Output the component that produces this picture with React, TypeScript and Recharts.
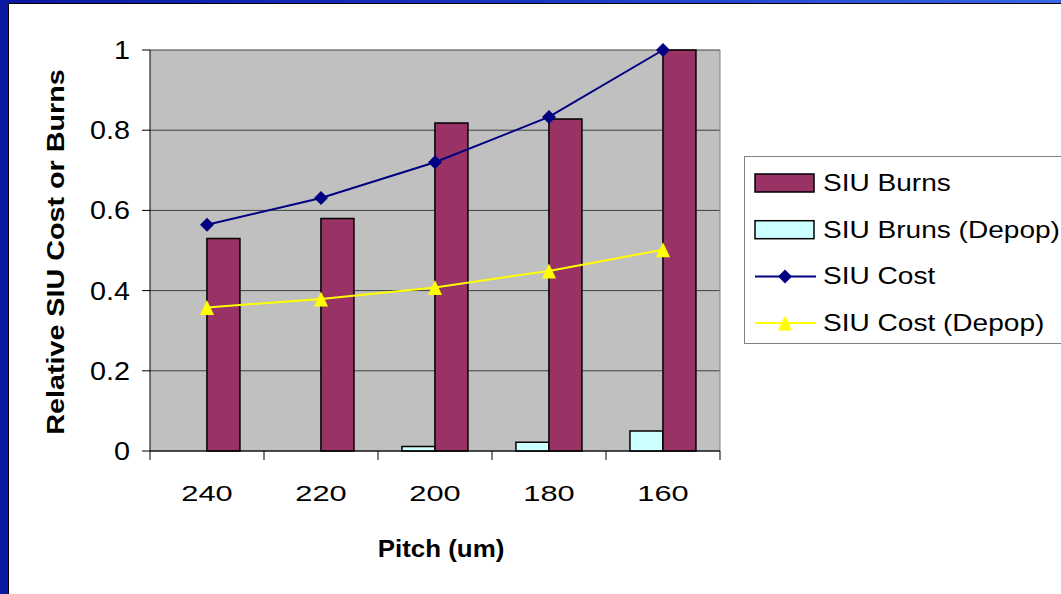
import React from 'react';
import { ComposedChart, Bar, Line, XAxis, YAxis, CartesianGrid } from 'recharts';

const pitches = ['240', '220', '200', '180', '160'];
const siuBurns = [0.53, 0.58, 0.818, 0.828, 1.0];
const siuBurnsDepop = [0, 0, 0.011, 0.022, 0.05];
const siuCost = [0.564, 0.631, 0.72, 0.833, 1.0];
const siuCostDepop = [0.358, 0.379, 0.408, 0.449, 0.502];
const yTicks = [0, 0.2, 0.4, 0.6, 0.8, 1];

const data = pitches.map((pitch, i) => ({
  pitch,
  burns: siuBurns[i],
  burnsDepop: siuBurnsDepop[i],
  cost: siuCost[i],
  costDepop: siuCostDepop[i],
}));

const FONT = '"Liberation Sans", Arial, sans-serif';
const W = 1061;
const H = 594;
const PLOT_LEFT = 150;
const PLOT_RIGHT = 720;
const PLOT_TOP = 50;
const PLOT_BOTTOM = 451;
const BAND = (PLOT_RIGHT - PLOT_LEFT) / pitches.length;

const BURNS = '#993366';
const DEPOP = '#CCFFFF';
const COST = '#000080';
const COST_DEPOP = '#FFFF00';

const diamond = (cx: number, cy: number, r = 7) =>
  `${cx},${cy - r} ${cx + r},${cy} ${cx},${cy + r} ${cx - r},${cy}`;
const triangle = (cx: number, cy: number) =>
  `${cx},${cy - 7.5} ${cx + 7},${cy + 7.5} ${cx - 7},${cy + 7.5}`;

const DiamondDot = (props: any) => {
  const { cx, cy, index } = props;
  return <polygon key={`d-${index}`} points={diamond(cx, cy)} fill={COST} />;
};

const TriangleDot = (props: any) => {
  const { cx, cy, index } = props;
  return <polygon key={`t-${index}`} points={triangle(cx, cy)} fill={COST_DEPOP} />;
};

// category labels with tick marks on the band boundaries
const PitchTick = (props: any) => {
  const { x, y, payload, index } = props;
  const last = index === pitches.length - 1;
  return (
    <g>
      <line x1={x - BAND / 2} x2={x - BAND / 2} y1={y} y2={y + 9} stroke="#000" />
      {last && <line x1={x + BAND / 2} x2={x + BAND / 2} y1={y} y2={y + 9} stroke="#000" />}
      <text
        transform={`translate(${x},${y + 50}) scale(1.4,1)`}
        textAnchor="middle"
        fontSize={22}
        fontFamily={FONT}
        fill="#000"
      >
        {payload.value}
      </text>
    </g>
  );
};

const ValueTick = (props: any) => {
  const { x, y, payload } = props;
  return (
    <text
      transform={`translate(${x - 12},${y + 9}) scale(1.15,1)`}
      textAnchor="end"
      fontSize={25}
      fontFamily={FONT}
      fill="#000"
    >
      {payload.value}
    </text>
  );
};

const legendItems = [
  { name: 'SIU Burns', kind: 'bar', color: BURNS },
  { name: 'SIU Bruns (Depop)', kind: 'bar', color: DEPOP },
  { name: 'SIU Cost', kind: 'diamond', color: COST },
  { name: 'SIU Cost (Depop)', kind: 'triangle', color: COST_DEPOP },
];

const ChartLegend = () => (
  <svg width={W} height={H} style={{ position: 'absolute', left: 0, top: 0 }}>
    <rect x={744.5} y={156.5} width={400} height={187} fill="#fff" stroke="#808080" />
    {legendItems.map((item, i) => {
      const cy = 183 + i * 46.7;
      return (
        <g key={item.name}>
          {item.kind === 'bar' ? (
            <rect x={755} y={cy - 9} width={59} height={18} fill={item.color} stroke="#000" strokeWidth={1.5} />
          ) : (
            <g>
              <line x1={755} x2={816} y1={cy} y2={cy} stroke={item.color} strokeWidth={2} />
              <polygon
                points={item.kind === 'diamond' ? diamond(785, cy) : triangle(785, cy)}
                fill={item.color}
              />
            </g>
          )}
          <text
            transform={`translate(823,${cy + 8}) scale(1.22,1)`}
            fontSize={23}
            fontFamily={FONT}
            fill="#000"
          >
            {item.name}
          </text>
        </g>
      );
    })}
  </svg>
);

export default function App() {
  return (
    <div
      style={{
        position: 'fixed',
        left: 0,
        top: 0,
        width: W,
        height: H,
        overflow: 'hidden',
        background: 'linear-gradient(90deg, #0a17a0 0%, #1a36c4 50%, #3a66e4 100%)',
      }}
    >
      <div
        style={{
          position: 'absolute',
          left: 8,
          top: 3,
          right: 0,
          bottom: 0,
          background: '#fff',
          borderLeft: '1px solid #000',
          borderTop: '1px solid #000',
        }}
      />
      <div style={{ position: 'absolute', left: 0, top: 0 }}>
        <ComposedChart
          width={W}
          height={H}
          data={data}
          margin={{ top: PLOT_TOP, right: W - PLOT_RIGHT, bottom: 0, left: 0 }}
          barCategoryGap="21%"
          barGap={0}
        >
          <CartesianGrid vertical={false} stroke="#404040" fill="#C0C0C0" fillOpacity={1} />
          <CartesianGrid horizontal={false} verticalPoints={[PLOT_RIGHT]} stroke="#808080" />
          <XAxis
            dataKey="pitch"
            height={H - PLOT_BOTTOM}
            axisLine={{ stroke: '#000' }}
            tickLine={false}
            tickSize={0}
            tickMargin={0}
            tick={<PitchTick />}
            interval={0}
            label={{
              content: () => (
                <text
                  transform={`translate(441,557) scale(1.08,1)`}
                  textAnchor="middle"
                  fontSize={24}
                  fontWeight="bold"
                  fontFamily={FONT}
                  fill="#000"
                >
                  Pitch (um)
                </text>
              ),
            }}
          />
          <YAxis
            width={PLOT_LEFT}
            domain={[0, 1]}
            ticks={yTicks}
            axisLine={{ stroke: '#000' }}
            tickLine={{ stroke: '#000' }}
            tickSize={8}
            tickMargin={0}
            tick={<ValueTick />}
            label={{
              content: () => (
                <text
                  transform={`translate(63.5,252) rotate(-90) scale(1.25,1)`}
                  textAnchor="middle"
                  fontSize={23}
                  fontWeight="bold"
                  fontFamily={FONT}
                  fill="#000"
                >
                  Relative SIU Cost or Burns
                </text>
              ),
            }}
          />
          <Bar dataKey="burnsDepop" name="SIU Bruns (Depop)" fill={DEPOP} stroke="#000" strokeWidth={1.5} isAnimationActive={false} />
          <Bar dataKey="burns" name="SIU Burns" fill={BURNS} stroke="#000" strokeWidth={1.5} isAnimationActive={false} />
          <Line dataKey="cost" name="SIU Cost" stroke={COST} strokeWidth={2} dot={DiamondDot} activeDot={false} isAnimationActive={false} />
          <Line dataKey="costDepop" name="SIU Cost (Depop)" stroke={COST_DEPOP} strokeWidth={2} dot={TriangleDot} activeDot={false} isAnimationActive={false} />
        </ComposedChart>
      </div>
      <ChartLegend />
    </div>
  );
}
